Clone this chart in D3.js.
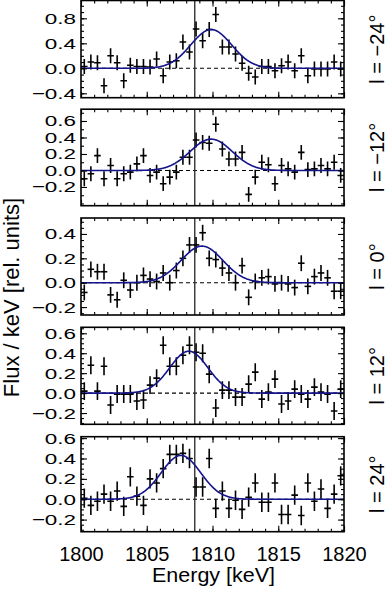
<!DOCTYPE html>
<html>
<head>
<meta charset="utf-8">
<script src="https://cdn.jsdelivr.net/npm/d3@7"></script>
<style>
  body { margin: 0; background: #fff; }
  svg { display: block; font-family: "Liberation Sans", Arial, Helvetica, sans-serif; }
</style>
</head>
<body>
<div id="chart"></div>
<script>
/* data */
// bin centres [keV], 0.5 keV bins
const binCentres = [
  1800.25, 1800.75, 1801.25, 1801.75, 1802.25, 1802.75, 1803.25, 1803.75, 1804.25, 1804.75,
  1805.25, 1805.75, 1806.25, 1806.75, 1807.25, 1807.75, 1808.25, 1808.75, 1809.25, 1809.75,
  1810.25, 1810.75, 1811.25, 1811.75, 1812.25, 1812.75, 1813.25, 1813.75, 1814.25, 1814.75,
  1815.25, 1815.75, 1816.25, 1816.75, 1817.25, 1817.75, 1818.25, 1818.75, 1819.25, 1819.75,
];
const binHalfWidth = 0.25;

const panelLabels = ['l = −24°', 'l = −12°', 'l = 0°', 'l = 12°', 'l = 24°'];

const fluxM24 = [
  0.03, 0.10, 0.09, -0.28, 0.20, 0.09, -0.20, 0.05, 0.03, 0.03,
  0.02, 0.15, -0.12, 0.10, 0.12, 0.42, 0.26, 0.63, 0.44, 0.62,
  0.86, 0.34, 0.34, 0.23, 0.08, -0.08, -0.14, 0.03, 0.03, -0.04,
  0.04, 0.10, -0.04, 0.20, -0.12, -0.01, -0.01, -0.01, 0.10, -0.01,
];
const fluxM12 = [
  -0.10, -0.04, 0.18, -0.10, 0.06, -0.10, -0.04, -0.02, 0.08, 0.18,
  -0.06, -0.02, -0.16, -0.08, -0.02, 0.16, 0.16, 0.37, 0.34, 0.33,
  0.56, 0.26, 0.14, 0.14, 0.22, -0.29, -0.08, 0.10, 0.07, -0.16,
  0.06, 0.02, -0.02, 0.22, 0.01, 0.02, 0.06, 0.02, 0.10, -0.06,
];
const flux0 = [
  -0.08, 0.11, 0.09, 0.09, -0.10, -0.14, 0.02, -0.06, 0.00, 0.06,
  0.03, 0.01, 0.08, 0.00, 0.10, 0.20, 0.31, 0.31, 0.41, 0.20,
  0.19, 0.12, 0.08, 0.00, 0.14, -0.12, 0.01, 0.04, 0.05, -0.01,
  0.00, -0.01, -0.04, 0.16, -0.03, 0.05, 0.08, 0.04, -0.07, -0.07,
];
const fluxP12 = [
  0.02, 0.28, 0.02, 0.27, -0.12, -0.01, -0.01, -0.01, -0.08, -0.07,
  0.08, 0.15, 0.48, 0.27, 0.27, 0.38, 0.48, 0.41, 0.40, 0.19,
  -0.15, 0.03, 0.03, -0.04, -0.04, 0.09, 0.21, -0.06, 0.01, 0.14,
  -0.11, -0.08, 0.04, -0.01, -0.06, 0.06, 0.01, -0.01, -0.18, 0.04,
];
const fluxP24 = [
  0.01, -0.06, -0.02, 0.05, -0.02, 0.08, -0.07, 0.22, 0.03, -0.06,
  0.20, 0.16, 0.30, 0.44, 0.44, 0.45, 0.40, 0.12, 0.12, 0.40,
  -0.09, 0.08, -0.09, -0.01, -0.10, 0.02, 0.16, -0.03, -0.03, 0.16,
  -0.15, -0.15, 0.04, -0.16, 0.16, -0.02, 0.10, -0.09, 0.05, 0.23,
];
const fluxSeries = [fluxM24, fluxM12, flux0, fluxP12, fluxP24];
// typical 1 sigma error per panel
const fluxErr = [0.12, 0.09, 0.065, 0.09, 0.095];

// fitted gaussian line per panel
const fitCentre = [1809.9, 1809.9, 1809.2, 1808.2, 1807.6];
const fitAmp = [0.62, 0.38, 0.30, 0.42, 0.43];
const fitSigma = [1.55, 1.6, 1.6, 1.45, 1.5];

// 26Al line energy
const lineEnergy = 1808.65;

const yDomains = [[-0.47, 1.085], [-0.427, 0.743], [-0.265, 0.531], [-0.313, 0.66], [-0.319, 0.614]];
const yMajorTicks = [
  [-0.4, 0, 0.4, 0.8],
  [-0.2, 0, 0.2, 0.4, 0.6],
  [-0.2, 0, 0.2, 0.4],
  [-0.2, 0, 0.2, 0.4, 0.6],
  [-0.2, 0, 0.2, 0.4, 0.6],
];
const yMinorStep = [0.1, 0.1, 0.05, 0.05, 0.05];
const xMajorTicks = [1800, 1805, 1810, 1815, 1820];
const xMinorTicks = d3.range(1800, 1821, 1);

/* layout */
const W = 387, H = 589;
const plotLeft = 81, plotRight = 344;
const panelTops = [0.5, 109.2, 218, 327.3, 436.7];
const panelBottoms = [97.7, 205.7, 315, 424.3, 531.7];

const svg = d3.select('#chart').append('svg')
  .attr('width', W)
  .attr('height', H);
svg.append('rect').attr('width', W).attr('height', H).attr('fill', '#fff');

const x = d3.scaleLinear().domain([1800, 1820]).range([plotLeft, plotRight]);
const fmt = d3.format('.1f');
const curveEnergies = d3.range(1800, 1820.001, 0.05);

// strip the axis domain and style tick lines
function styleAxis(g) {
  g.attr('font-size', null).attr('font-family', null);
  g.select('.domain').remove();
  g.selectAll('line').attr('stroke', '#000').attr('stroke-width', 1.1);
}

function drawPanel(i) {
  const top = panelTops[i], bottom = panelBottoms[i];
  const y = d3.scaleLinear().domain(yDomains[i]).range([bottom, top]);
  const g = svg.append('g').attr('class', 'panel');

  const clipId = 'clip' + i;
  g.append('clipPath').attr('id', clipId)
    .append('rect')
    .attr('x', plotLeft).attr('y', top)
    .attr('width', plotRight - plotLeft).attr('height', bottom - top);
  const inner = g.append('g').attr('clip-path', `url(#${clipId})`);

  // zero level
  inner.append('line')
    .attr('x1', plotLeft).attr('x2', plotRight)
    .attr('y1', y(0)).attr('y2', y(0))
    .attr('stroke', '#000').attr('stroke-width', 1.1)
    .attr('stroke-dasharray', '4,3');

  // line energy marker
  inner.append('line')
    .attr('x1', x(lineEnergy)).attr('x2', x(lineEnergy))
    .attr('y1', top).attr('y2', bottom)
    .attr('stroke', '#333').attr('stroke-width', 1.4);

  // data points with error bars
  const pts = binCentres.map((e, k) => ({ e, v: fluxSeries[i][k], err: fluxErr[i] }));
  const bars = inner.selectAll('.pt').data(pts).join('g').attr('class', 'pt');
  bars.append('line')
    .attr('x1', (d) => x(d.e - binHalfWidth)).attr('x2', (d) => x(d.e + binHalfWidth))
    .attr('y1', (d) => y(d.v)).attr('y2', (d) => y(d.v));
  bars.append('line')
    .attr('x1', (d) => x(d.e)).attr('x2', (d) => x(d.e))
    .attr('y1', (d) => y(d.v - d.err)).attr('y2', (d) => y(d.v + d.err));
  bars.selectAll('line').attr('stroke', '#000').attr('stroke-width', 1.6);

  // fitted line
  const line = d3.line()
    .x((e) => x(e))
    .y((e) => y(fitAmp[i] * Math.exp(-0.5 * Math.pow((e - fitCentre[i]) / fitSigma[i], 2))));
  inner.append('path')
    .datum(curveEnergies)
    .attr('d', line)
    .attr('fill', 'none')
    .attr('stroke', '#14148c')
    .attr('stroke-width', 1.6);

  // minor y ticks
  const [lo, hi] = yDomains[i];
  const step = yMinorStep[i];
  const yMinor = d3.range(Math.ceil(lo / step), Math.floor(hi / step) + 1).map((n) => +(n * step).toFixed(3));

  g.append('g').attr('transform', `translate(${plotLeft},0)`)
    .call(d3.axisLeft(y).tickValues(yMinor).tickSize(-3).tickFormat(''))
    .call(styleAxis);
  g.append('g').attr('transform', `translate(${plotRight},0)`)
    .call(d3.axisRight(y).tickValues(yMinor).tickSize(-3).tickFormat(''))
    .call(styleAxis);
  g.append('g').attr('transform', `translate(${plotRight},0)`)
    .call(d3.axisRight(y).tickValues(yMajorTicks[i]).tickSize(-6).tickFormat(''))
    .call(styleAxis);

  // major y ticks with labels (labels are wide in the original)
  const left = g.append('g').attr('transform', `translate(${plotLeft},0)`)
    .call(d3.axisLeft(y).tickValues(yMajorTicks[i]).tickSize(-6).tickPadding(5).tickFormat(fmt))
    .call(styleAxis);
  left.selectAll('text')
    .attr('font-size', 15.5)
    .attr('fill', '#000')
    .attr('x', -5 / 1.45)
    .attr('transform', 'scale(1.45,1)');

  // x ticks top & bottom
  const isLast = i === panelTops.length - 1;
  [[d3.axisTop, top], [d3.axisBottom, bottom]].forEach(([axisFn, pos]) => {
    g.append('g').attr('transform', `translate(0,${pos})`)
      .call(axisFn(x).tickValues(xMinorTicks).tickSize(-3).tickFormat(''))
      .call(styleAxis);
  });
  g.append('g').attr('transform', `translate(0,${top})`)
    .call(d3.axisTop(x).tickValues(xMajorTicks).tickSize(-6).tickFormat(''))
    .call(styleAxis);
  const bottomAxis = g.append('g').attr('transform', `translate(0,${bottom})`)
    .call(d3.axisBottom(x).tickValues(xMajorTicks).tickSize(-6).tickPadding(15)
      .tickFormat(isLast ? d3.format('d') : ''))
    .call(styleAxis);
  bottomAxis.selectAll('text').attr('font-size', 20).attr('fill', '#000');

  // frame
  g.append('rect')
    .attr('x', plotLeft).attr('y', top)
    .attr('width', plotRight - plotLeft).attr('height', bottom - top)
    .attr('fill', 'none').attr('stroke', '#000').attr('stroke-width', 1.6);

  // longitude label on the right
  svg.append('text')
    .attr('transform', `translate(384,${(top + bottom) / 2}) rotate(-90)`)
    .attr('text-anchor', 'middle')
    .attr('font-size', 20)
    .text(panelLabels[i]);
}

panelTops.forEach((_, i) => drawPanel(i));

// axis titles
svg.append('text')
  .attr('x', (plotLeft + plotRight) / 2 + 1)
  .attr('y', 581.5)
  .attr('text-anchor', 'middle')
  .attr('font-size', 20)
  .attr('textLength', 123)
  .attr('lengthAdjust', 'spacingAndGlyphs')
  .text('Energy [keV]');

svg.append('text')
  .attr('transform', 'translate(18.5,297.5) rotate(-90)')
  .attr('text-anchor', 'middle')
  .attr('font-size', 22)
  .text('Flux / keV [rel. units]');
</script>
</body>
</html>
